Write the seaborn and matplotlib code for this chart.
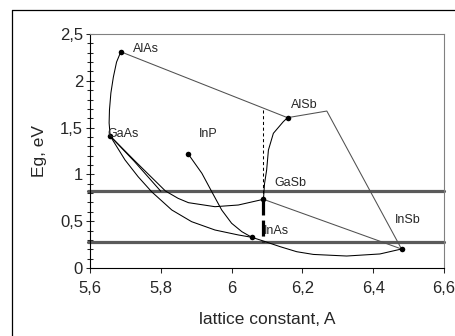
import matplotlib
matplotlib.use("Agg")
import seaborn as sns
from matplotlib import pyplot as plt
from matplotlib.lines import Line2D

# binary compounds: lattice constant (A) and band gap (eV)
compounds = ["AlAs", "GaAs", "InP", "InAs", "GaSb", "AlSb", "InSb"]
lattice = [5.687, 5.657, 5.878, 6.057, 6.090, 6.158, 6.480]
eg = [2.31, 1.41, 1.215, 0.328, 0.734, 1.606, 0.203]

# where the compound names sit
label_x = [5.722, 5.649, 5.908, 6.092, 6.120, 6.168, 6.462]
label_y = [2.34, 1.43, 1.43, 0.40, 0.905, 1.74, 0.51]

# ternary curves
alas_gaas_x = [5.687, 5.675, 5.666, 5.659, 5.655, 5.654, 5.657]
alas_gaas_y = [2.31, 2.20, 2.04, 1.87, 1.69, 1.55, 1.41]

gaas_gasb_x = [5.657, 5.730, 5.813, 5.849, 5.878, 5.953, 6.019, 6.090]
gaas_gasb_y = [1.41, 1.132, 0.823, 0.744, 0.698, 0.655, 0.673, 0.734]

gaas_mid_x = [5.657, 5.725, 5.800]
gaas_mid_y = [1.41, 1.14, 0.82]

gaas_inas_x = [5.657, 5.699, 5.736, 5.774, 5.831, 5.887, 5.953, 6.019, 6.057]
gaas_inas_y = [1.41, 1.154, 0.975, 0.815, 0.620, 0.495, 0.406, 0.353, 0.328]

inp_inas_x = [5.878, 5.916, 5.944, 5.972, 6.000, 6.029, 6.057]
inp_inas_y = [1.215, 1.012, 0.815, 0.620, 0.478, 0.388, 0.328]

inas_insb_x = [6.057, 6.090, 6.137, 6.184, 6.231, 6.325, 6.419, 6.480]
inas_insb_y = [0.328, 0.288, 0.228, 0.174, 0.145, 0.128, 0.150, 0.203]

alsb_gasb_x = [6.158, 6.146, 6.118, 6.104, 6.099, 6.093, 6.090]
alsb_gasb_y = [1.606, 1.563, 1.439, 1.26, 1.047, 0.90, 0.734]

gasb_insb_x = [6.090, 6.480]
gasb_insb_y = [0.734, 0.203]

# outer boundary lines
alas_alsb_x = [5.687, 6.158]
alas_alsb_y = [2.31, 1.606]
alsb_insb_x = [6.158, 6.269, 6.480]
alsb_insb_y = [1.606, 1.677, 0.203]

# lattice matched to GaSb
gasb_a = 6.090
thin_dash_y = [0.734, 1.708]
thick_dash_y = [0.734, 0.281]

# the two horizontal levels
levels = [0.82, 0.275]

xticks = [5.6, 5.8, 6.0, 6.2, 6.4, 6.6]
xtick_labels = ["5,6", "5,8", "6", "6,2", "6,4", "6,6"]
yticks = [0, 0.5, 1, 1.5, 2, 2.5]
ytick_labels = ["0", "0,5", "1", "1,5", "2", "2,5"]

sns.set_style("white")
plt.rcParams["font.family"] = ["Liberation Sans", "DejaVu Sans"]

fig = plt.figure(figsize=(4.56, 3.36), dpi=100)
ax = fig.add_axes([90 / 456, 68 / 336, 354 / 456, 234 / 336])

for lv in levels:
    ax.axhline(lv, xmin=-0.007, xmax=1, color="#5a5a5a", lw=2.3, clip_on=False, zorder=1)

thin_black = [
    (alas_gaas_x, alas_gaas_y),
    (gaas_gasb_x, gaas_gasb_y),
    (gaas_mid_x, gaas_mid_y),
    (gaas_inas_x, gaas_inas_y),
    (inp_inas_x, inp_inas_y),
    (inas_insb_x, inas_insb_y),
    (alsb_gasb_x, alsb_gasb_y),
]
for xs, ys in thin_black:
    sns.lineplot(x=xs, y=ys, sort=False, estimator=None, color="black", lw=0.75, ax=ax, zorder=3)

for xs, ys in [(alas_alsb_x, alas_alsb_y), (alsb_insb_x, alsb_insb_y), (gasb_insb_x, gasb_insb_y)]:
    sns.lineplot(x=xs, y=ys, sort=False, estimator=None, color="#505050", lw=0.75, ax=ax, zorder=3)

ax.plot([gasb_a, gasb_a], thin_dash_y, color="black", lw=0.75, dashes=(3, 2.5), zorder=3)
ax.plot([gasb_a, gasb_a], thick_dash_y, color="black", lw=2.3, dashes=(5, 1.6), zorder=4)

sns.scatterplot(x=lattice, y=eg, color="black", s=16, edgecolor="black", linewidth=0, ax=ax, zorder=5)

for name, tx, ty in zip(compounds, label_x, label_y):
    ax.text(tx, ty, name, ha="left", va="center", fontsize=9, zorder=6)

ax.set_xlim(5.6, 6.6)
ax.set_ylim(0, 2.5)
ax.set_xticks(xticks)
ax.set_xticklabels(xtick_labels)
ax.set_yticks(yticks)
ax.set_yticklabels(ytick_labels)
ax.set_yticks([i / 10 for i in range(26)], minor=True)
ax.tick_params(axis="x", direction="out", length=3.6, width=0.75, pad=6, labelsize=12, bottom=True)
ax.tick_params(axis="y", which="major", direction="inout", length=6, width=0.75, pad=2, labelsize=12, left=True)
ax.tick_params(axis="y", which="minor", direction="inout", length=4.3, width=0.75, left=True)

for side in ["left", "bottom"]:
    ax.spines[side].set_color("black")
    ax.spines[side].set_linewidth(0.8)
for side in ["top", "right"]:
    ax.spines[side].set_color("#808080")
    ax.spines[side].set_linewidth(0.8)

ax.set_xlabel("lattice constant, A", fontsize=12.5, labelpad=11)
ax.set_ylabel("Eg, eV", fontsize=12.5, labelpad=9)

# chart area border (only left and top fall inside the picture)
fig.add_artist(Line2D([12 / 456, 12 / 456], [-0.01, 1 - 10 / 336], color="black", lw=0.9))
fig.add_artist(Line2D([12 / 456, 1.01], [1 - 10 / 336, 1 - 10 / 336], color="black", lw=0.9))

fig.savefig("out.png", dpi=100)
